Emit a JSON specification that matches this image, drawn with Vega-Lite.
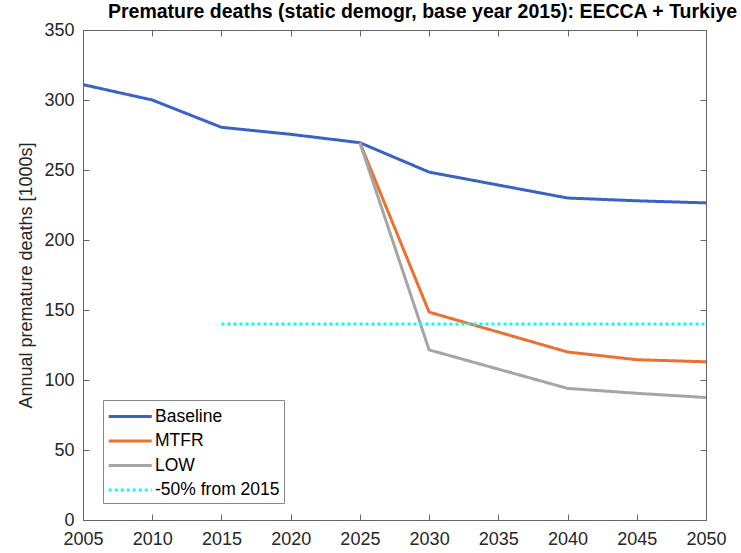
{
  "$schema": "https://vega.github.io/schema/vega-lite/v6.json",
  "width": 623,
  "height": 490,
  "autosize": {"type": "none"},
  "padding": {"left": 83, "top": 30, "right": 35, "bottom": 33},
  "background": "white",
  "title": {
    "text": "Premature deaths (static demogr, base year 2015): EECCA + Turkiye",
    "font": "Liberation Sans",
    "fontSize": 19.5,
    "fontWeight": "bold",
    "color": "#000000",
    "anchor": "middle",
    "dx": 28,
    "offset": -1
  },
  "config": {
    "view": {"stroke": "#666666", "strokeWidth": 1},
    "axis": {
      "labelFont": "Liberation Sans",
      "labelFontSize": 18,
      "labelColor": "#262626",
      "titleFont": "Liberation Sans",
      "titleFontSize": 18,
      "titleFontWeight": "normal",
      "titleColor": "#262626",
      "domainColor": "#666666",
      "tickColor": "#666666",
      "grid": false
    }
  },
  "data": {
    "values": [
      {"year": 2005, "v": 311, "s": "Baseline"},
      {"year": 2010, "v": 300, "s": "Baseline"},
      {"year": 2015, "v": 280.5, "s": "Baseline"},
      {"year": 2020, "v": 275.5, "s": "Baseline"},
      {"year": 2025, "v": 269.5, "s": "Baseline"},
      {"year": 2030, "v": 248.5, "s": "Baseline"},
      {"year": 2040, "v": 230, "s": "Baseline"},
      {"year": 2045, "v": 228, "s": "Baseline"},
      {"year": 2050, "v": 226.5, "s": "Baseline"},
      {"year": 2025, "v": 269.5, "s": "MTFR"},
      {"year": 2030, "v": 148.5, "s": "MTFR"},
      {"year": 2040, "v": 120, "s": "MTFR"},
      {"year": 2045, "v": 114.5, "s": "MTFR"},
      {"year": 2050, "v": 113, "s": "MTFR"},
      {"year": 2025, "v": 269.5, "s": "LOW"},
      {"year": 2030, "v": 121.5, "s": "LOW"},
      {"year": 2040, "v": 94, "s": "LOW"},
      {"year": 2045, "v": 90.5, "s": "LOW"},
      {"year": 2050, "v": 87.5, "s": "LOW"},
      {"year": 2015, "v": 140, "s": "-50% from 2015"},
      {"year": 2050, "v": 140, "s": "-50% from 2015"}
    ]
  },
  "layer": [
    {
      "mark": {"type": "line", "strokeWidth": 3, "clip": true},
      "encoding": {
        "x": {
          "field": "year", "type": "quantitative",
          "scale": {"domain": [2005, 2050], "nice": false, "zero": false},
          "axis": {"values": [2005,2010,2015,2020,2025,2030,2035,2040,2045,2050], "format": "d", "title": null, "tickSize": -6, "labelPadding": 16, "labelFlush": false}
        },
        "y": {
          "field": "v", "type": "quantitative",
          "scale": {"domain": [0, 350], "nice": false},
          "axis": {"values": [0,50,100,150,200,250,300,350], "title": "Annual premature deaths [1000s]", "tickSize": -6, "labelPadding": 15, "titlePadding": 8}
        },
        "color": {
          "field": "s", "type": "nominal",
          "scale": {"domain": ["Baseline", "MTFR", "LOW", "-50% from 2015"], "range": ["#3A62C4", "#EC7030", "#A5A5A5", "#00FFFF"]},
          "legend": {
            "title": null,
            "orient": "none",
            "legendX": 20,
            "legendY": 370,
            "symbolType": "M-1,0H3",
            "symbolSize": 462,
            "symbolStrokeWidth": 3,
            "labelFont": "Liberation Sans",
            "labelFontSize": 17.5,
            "labelColor": "#000000",
            "fillColor": "white",
            "strokeColor": "#888888",
            "padding": 4,
            "rowPadding": 3.5,
            "labelOffset": 23,
            "labelLimit": 300
          }
        },
        "strokeDash": {
          "field": "s", "type": "nominal",
          "scale": {"domain": ["Baseline", "MTFR", "LOW", "-50% from 2015"], "range": [[1, 0], [1, 0], [1, 0], [3, 3]]},
          "legend": null
        },
        "detail": {"field": "s"}
      }
    },
    {
      "mark": {"type": "line", "opacity": 0},
      "encoding": {
        "x": {
          "field": "year", "type": "quantitative",
          "scale": {"domain": [2005, 2050], "nice": false, "zero": false},
          "axis": {"orient": "top", "values": [2005,2010,2015,2020,2025,2030,2035,2040,2045,2050], "labels": false, "title": null, "tickSize": -6}
        },
        "y": {
          "field": "v", "type": "quantitative",
          "scale": {"domain": [0, 350], "nice": false},
          "axis": {"orient": "right", "values": [0,50,100,150,200,250,300,350], "labels": false, "title": null, "tickSize": -6}
        },
        "detail": {"field": "s"}
      }
    }
  ],
  "resolve": {"scale": {"x": "independent", "y": "independent"}, "axis": {"x": "independent", "y": "independent"}}
}
